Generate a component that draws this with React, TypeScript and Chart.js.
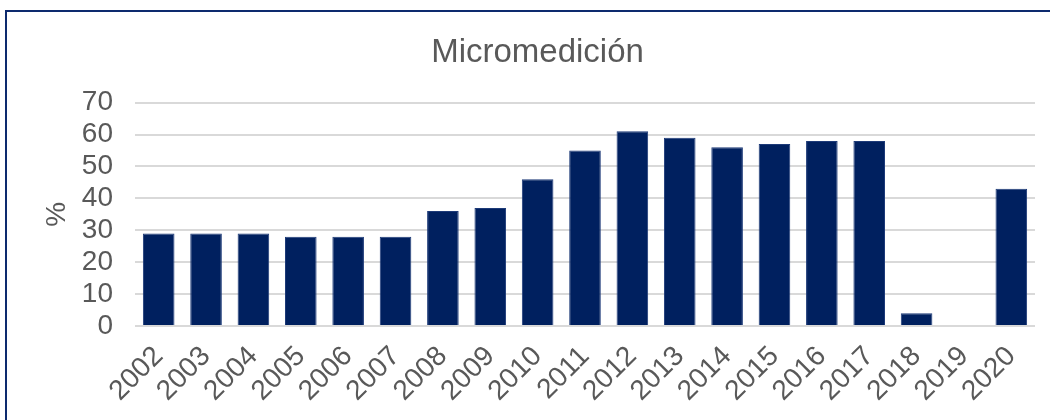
import React, { useEffect, useRef } from "react";
import { Chart, registerables } from "chart.js";

Chart.register(...registerables);

const categories = ["2002","2003","2004","2005","2006","2007","2008","2009","2010","2011","2012","2013","2014","2015","2016","2017","2018","2019","2020"];
const values: (number | null)[] = [29, 29, 29, 28, 28, 28, 36, 37, 46, 55, 61, 59, 56, 57, 58, 58, 4, null, 43];
const yMin = 0;
const yMax = 70;
const yStep = 10;
const chartTitle = "Micromedición";
const yTitle = "%";

export default function App() {
  const ref = useRef<HTMLCanvasElement | null>(null);
  useEffect(() => {
    if (!ref.current) return;
    const font = "'Liberation Sans', Arial, sans-serif";
    const chart = new Chart(ref.current, {
      type: "bar",
      data: {
        labels: categories,
        datasets: [
          {
            data: values,
            backgroundColor: "#00205f",
            borderColor: "#1d3a78",
            borderWidth: 1,
            barPercentage: 0.667,
            categoryPercentage: 1,
          },
        ],
      },
      options: {
        animation: false,
        responsive: false,
        maintainAspectRatio: false,
        layout: { padding: { left: 40, right: 15, top: 0, bottom: 0 } },
        plugins: {
          legend: { display: false },
          tooltip: { enabled: false },
          title: {
            display: true,
            text: chartTitle,
            color: "#595959",
            font: { family: font, size: 33, weight: "normal" },
            padding: { top: 33, bottom: 30 },
          },
        },
        scales: {
          x: {
            grid: { display: false },
            border: { display: false },
            ticks: {
              color: "#595959",
              font: { family: font, size: 28 },
              maxRotation: 45,
              minRotation: 45,
              padding: 6,
              autoSkip: false,
            },
            afterFit: (s: any) => {
              s.height = 94;
            },
          },
          y: {
            min: yMin,
            max: yMax,
            grid: { color: "#d9d9d9", lineWidth: 2, drawTicks: false },
            border: { display: false },
            ticks: {
              stepSize: yStep,
              autoSkip: false,
              color: "#595959",
              font: { family: font, size: 28 },
              padding: 22,
            },
            title: {
              display: true,
              text: yTitle,
              color: "#595959",
              font: { family: font, size: 28 },
              padding: 0,
            },
            afterFit: (s: any) => {
              s.width = 135 - 40;
            },
          },
        },
      },
    });
    return () => chart.destroy();
  }, []);
  return (
    <div style={{ position: "fixed", left: 0, top: 0, width: 1050, height: 420, background: "#fff", overflow: "hidden" }}>
      <canvas ref={ref} width={1050} height={420} style={{ position: "absolute", left: 0, top: 0 }} />
      <div
        style={{
          position: "absolute",
          left: 5,
          top: 10,
          width: 1200,
          height: 600,
          borderTop: "2px solid #0d2a6e",
          borderLeft: "2px solid #0d2a6e",
          pointerEvents: "none",
        }}
      />
    </div>
  );
}
